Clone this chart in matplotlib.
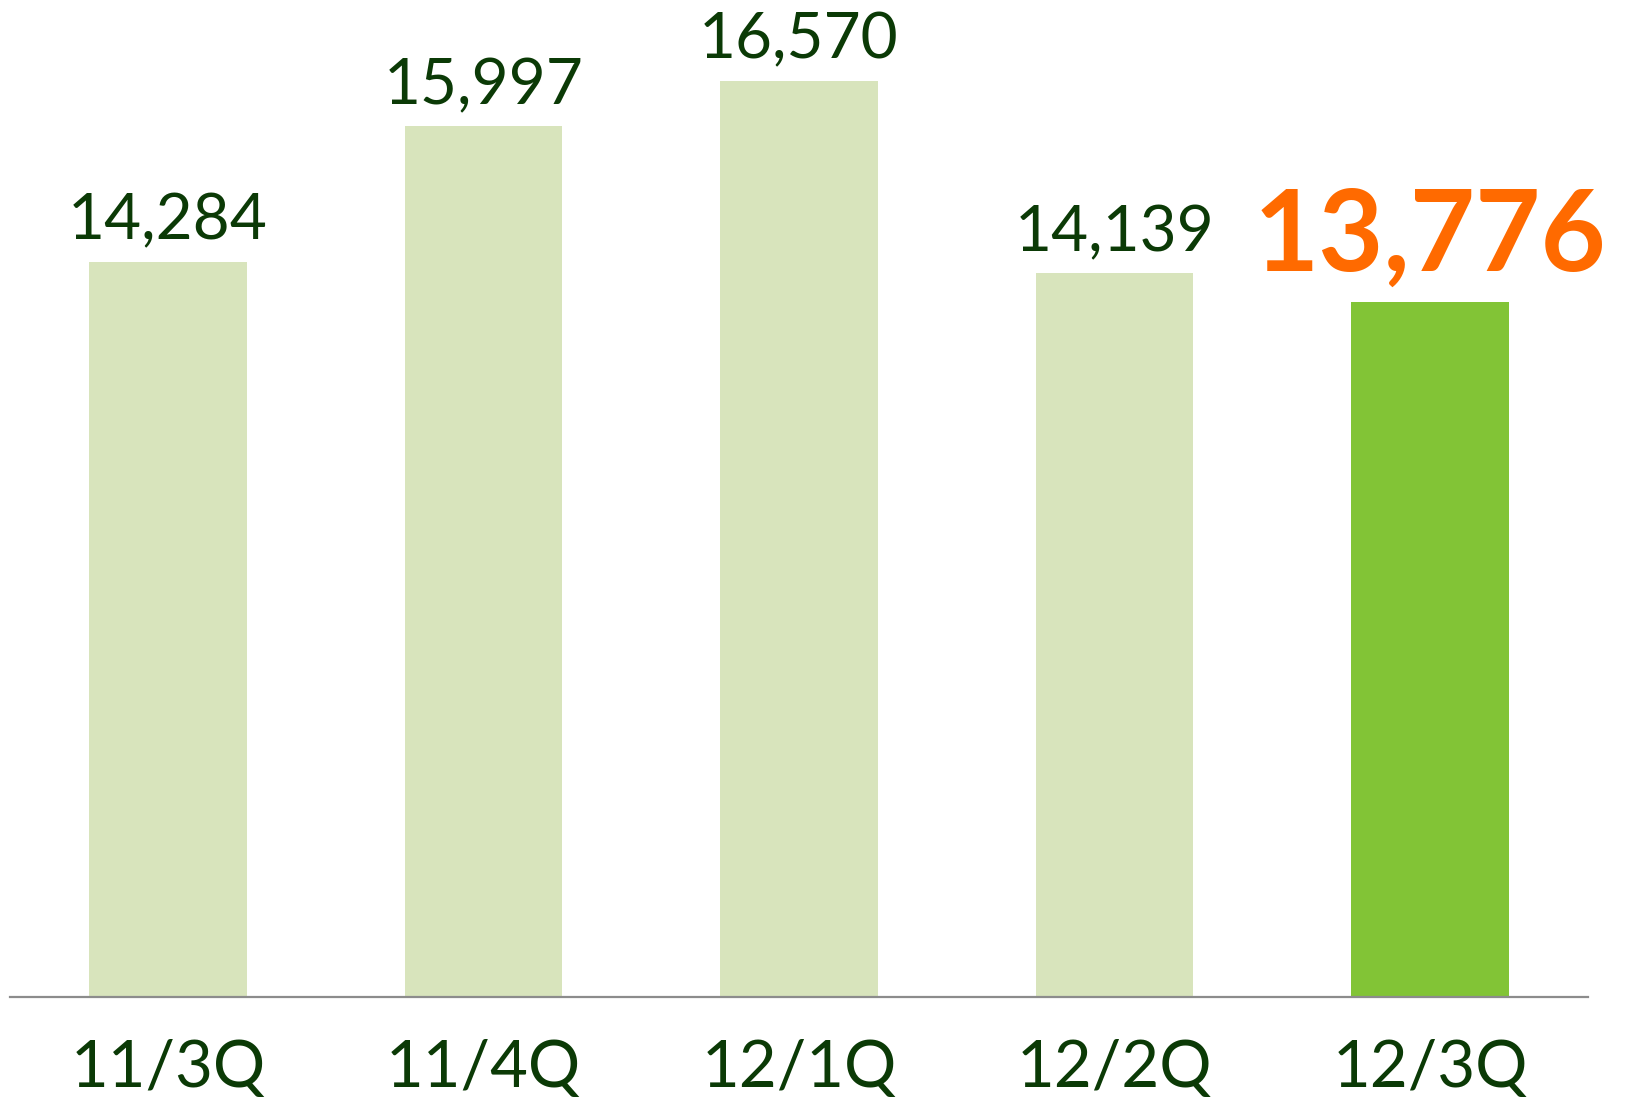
import matplotlib
matplotlib.use("Agg")
import matplotlib.pyplot as plt
import matplotlib.transforms as mtransforms

# data
quarters = ["11/3Q", "11/4Q", "12/1Q", "12/2Q", "12/3Q"]
values = [14284, 15997, 16570, 14139, 13776]
highlight = 4  # latest quarter

LIGHT = "#d8e4bc"
STRONG = "#82c436"
TEXT = "#0b3a06"
ORANGE = "#ff6a00"

plt.rcParams["font.family"] = ["Lato", "DejaVu Sans"]

W, H = 1630, 1098
fig = plt.figure(figsize=(W / 100, H / 100), dpi=100)
base_px = 997
ax = fig.add_axes([10 / W, (H - base_px) / H, 1578 / W, base_px / H])

colors = [STRONG if i == highlight else LIGHT for i in range(len(values))]
xs = range(len(values))
ax.bar(xs, values, width=0.5, color=colors, zorder=2)

y0 = 5000
px_per_unit = (997 - 81) / (16570 - y0)
ax.set_ylim(y0, y0 + base_px / px_per_unit)
ax.set_xlim(-0.5, len(values) - 0.5)

for i, v in enumerate(values):
    if i == highlight:
        ax.annotate(f"{v:,}", (i, v), xytext=(0, 23), textcoords="offset points",
                    ha="center", va="baseline", fontsize=81, fontweight="bold",
                    color=ORANGE)
    else:
        ax.annotate(f"{v:,}", (i, v), xytext=(0, 16), textcoords="offset points",
                    ha="center", va="baseline", fontsize=46, color=TEXT)

# category labels below the axis line
trans = mtransforms.blended_transform_factory(ax.transData, ax.transAxes)
for i, q in enumerate(quarters):
    ax.text(i, -90 / base_px, q, transform=trans, ha="center", va="baseline",
            fontsize=47, color=TEXT, clip_on=False)

for s in ("top", "right", "left"):
    ax.spines[s].set_visible(False)
ax.spines["bottom"].set_color("#8c8c8c")
ax.spines["bottom"].set_linewidth(1.6)
ax.spines["bottom"].set_zorder(3)
ax.set_xticks([])
ax.set_yticks([])

fig.savefig("out.png", dpi=100)
